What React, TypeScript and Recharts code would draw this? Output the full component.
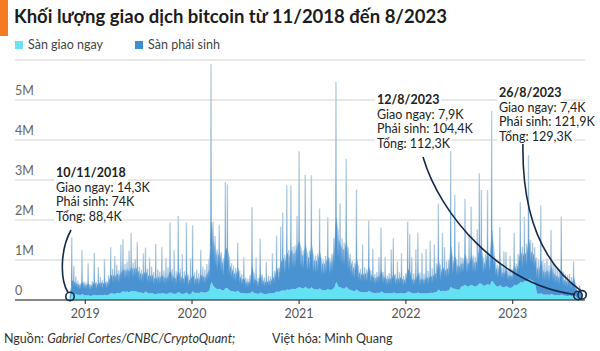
import React from 'react';
import {
  ComposedChart,
  Area,
  Bar,
  XAxis,
  YAxis,
  CartesianGrid,
  ReferenceDot,
} from 'recharts';

const DAY = 86400000;
const START = Date.UTC(2018, 10, 10);

// weekly samples from 10/11/2018, values in thousands
// spot = giao ngay, body = typical phai sinh level, peak = highest phai sinh day of the week
const spot2018 = [14.3, 160, 150, 140, 130, 120, 150, 120];
const body2018 = [74, 320, 300, 280, 260, 240, 300, 260];
const peak2018 = [74, 1400, 700, 450, 350, 300, 1100, 350];

const spot2019 = [
  110, 120, 100, 115, 130, 110, 120, 125, 115, 130,
  120, 140, 170, 160, 150, 180, 165, 190, 220, 200,
  210, 190, 230, 210, 220, 200, 190, 180, 170, 210,
  170, 160, 175, 150, 150, 160, 155, 170, 160, 150,
  165, 190, 170, 150, 160, 200, 165, 150, 160, 190,
  140, 150,
];
const body2019 = [
  260, 280, 240, 270, 320, 260, 290, 320, 290, 310,
  280, 340, 440, 460, 420, 480, 440, 490, 540, 520,
  560, 510, 580, 540, 600, 540, 500, 460, 480, 510,
  440, 420, 460, 400, 380, 420, 400, 440, 410, 380,
  440, 540, 440, 380, 400, 510, 420, 360, 390, 480,
  350, 370,
];
const peak2019 = [
  330, 800, 300, 360, 1050, 340, 700, 450, 380, 900,
  360, 480, 1150, 620, 950, 700, 580, 1200, 1300, 700,
  750, 1050, 1450, 720, 800, 1250, 640, 580, 1000, 1100,
  620, 900, 660, 550, 1250, 600, 560, 1150, 580, 900,
  650, 1750, 600, 1100, 560, 1900, 620, 1000, 560, 1750,
  480, 900,
];

const spot2020 = [
  220, 170, 180, 170, 200, 190, 180, 200, 230, 450,
  350, 300, 260, 280, 250, 240, 300, 290, 240, 220,
  210, 200, 230, 180, 170, 170, 160, 160, 170, 220,
  170, 160, 150, 190, 160, 150, 150, 160, 160, 170,
  180, 210, 200, 230, 240, 230, 260, 250, 270, 280,
  260, 300,
];
const body2020 = [
  400, 340, 370, 320, 420, 400, 370, 450, 520, 1500,
  1150, 950, 800, 900, 750, 620, 1000, 950, 620, 540,
  470, 430, 560, 400, 340, 360, 290, 270, 310, 600,
  370, 320, 290, 450, 340, 300, 290, 320, 310, 370,
  400, 580, 480, 700, 800, 720, 920, 800, 980, 860,
  920, 1050,
];
const peak2020 = [
  1650, 520, 580, 500, 1050, 650, 580, 700, 800, 5450,
  1600, 1300, 1000, 1600, 950, 800, 2650, 2600, 850, 700,
  650, 600, 1200, 550, 480, 900, 400, 380, 450, 2100,
  520, 900, 400, 1350, 480, 420, 800, 450, 430, 1000,
  550, 1400, 600, 1600, 1950, 900, 2600, 1000, 2600, 1050,
  1100, 1800,
];

const spot2021 = [
  320, 300, 290, 330, 280, 280, 320, 270, 260, 260,
  290, 250, 240, 250, 270, 250, 260, 300, 450, 330,
  320, 290, 280, 330, 270, 250, 230, 220, 260, 210,
  200, 190, 200, 190, 230, 190, 180, 170, 180, 175,
  210, 180, 170, 165, 175, 160, 190, 170, 165, 175,
  170, 160,
];
const body2021 = [
  1150, 850, 800, 1050, 760, 800, 1050, 720, 700, 740,
  900, 660, 640, 700, 800, 660, 740, 950, 1600, 1200,
  1050, 1000, 950, 1100, 820, 700, 600, 540, 760, 480,
  450, 430, 470, 450, 580, 430, 400, 370, 400, 390,
  520, 400, 370, 340, 380, 330, 470, 360, 340, 390,
  360, 330,
];
const peak2021 = [
  3400, 1000, 950, 2800, 900, 950, 2800, 850, 850, 900,
  2000, 800, 750, 850, 1800, 800, 900, 1250, 5000, 1450,
  2100, 1250, 1150, 3200, 1050, 900, 750, 700, 2500, 650,
  580, 1200, 620, 580, 1750, 550, 1100, 480, 520, 900,
  1600, 520, 900, 450, 500, 1100, 1350, 480, 800, 520,
  1000, 440,
];

const spot2022 = [
  170, 210, 200, 170, 165, 170, 190, 165, 170, 165,
  175, 170, 180, 175, 190, 200, 260, 210, 230, 220,
  230, 240, 330, 280, 280, 260, 250, 330, 350, 380,
  330, 350, 380, 350, 340, 360, 420, 400, 350, 370,
  400, 370, 480, 420, 350, 330, 370, 320, 320, 350,
  310, 300, 320,
];
const body2022 = [
  360, 560, 500, 340, 330, 370, 470, 340, 350, 330,
  390, 370, 420, 400, 450, 490, 720, 470, 580, 510,
  540, 560, 1000, 620, 800, 600, 560, 580, 550, 760,
  560, 580, 720, 600, 580, 620, 920, 820, 550, 600,
  800, 580, 1250, 700, 450, 380, 580, 360, 330, 420,
  300, 290, 300,
];
const peak2022 = [
  500, 1750, 1450, 900, 500, 1100, 1500, 520, 1000, 500,
  1100, 560, 1300, 620, 1200, 720, 2150, 680, 1450, 1100,
  740, 760, 3400, 800, 2350, 760, 1200, 740, 700, 2150,
  720, 1300, 1950, 760, 740, 1400, 2750, 2350, 720, 780,
  2350, 720, 4250, 900, 640, 550, 1450, 520, 900, 850,
  450, 800, 450,
];

const spot2023 = [
  380, 360, 400, 450, 430, 480, 460, 520, 500, 480,
  420, 160, 150, 170, 140, 130, 140, 125, 150, 130,
  120, 125, 115, 140, 110, 105, 100, 110, 95, 120,
  90, 7.9, 85, 7.4,
];
const body2023 = [
  480, 380, 520, 760, 650, 700, 660, 1000, 700, 680,
  640, 640, 580, 800, 580, 560, 600, 530, 680, 540,
  490, 460, 430, 620, 400, 370, 350, 370, 300, 430,
  230, 104.4, 190, 121.9,
];
const peak2023 = [
  1300, 550, 750, 2000, 900, 1600, 950, 3100, 1000, 950,
  900, 900, 850, 2200, 850, 800, 900, 750, 1600, 800,
  750, 700, 650, 1950, 600, 550, 520, 550, 480, 850,
  330, 104.4, 280, 121.9,
];

const spot = [...spot2018, ...spot2019, ...spot2020, ...spot2021, ...spot2022, ...spot2023];
const body = [...body2018, ...body2019, ...body2020, ...body2021, ...body2022, ...body2023];
const peak = [...peak2018, ...peak2019, ...peak2020, ...peak2021, ...peak2022, ...peak2023];

const data = body.map((v, i) => ({
  t: START + i * 7 * DAY,
  spot: spot[i],
  deriv: v,
  // the spike above the weekly level
  spike: [spot[i] + v * 0.6, spot[i] + Math.max(v, peak[i])],
}));
const END = data[data.length - 1].t;

const yearTicks = [2019, 2020, 2021, 2022, 2023];
const yTicks = [0, 1000, 2000, 3000, 4000, 5000];

const legendItems = [
  { name: 'Sàn giao ngay', color: '#6de3f1' },
  { name: 'Sàn phái sinh', color: '#3d8fd2' },
];

const notes = [
  { label: '10/11/2018', week: 0, spot: 14.3, deriv: 74, total: 88.4 },
  { label: '12/8/2023', week: 248, spot: 7.9, deriv: 104.4, total: 112.3 },
  { label: '26/8/2023', week: 250, spot: 7.4, deriv: 121.9, total: 129.3 },
];

// where each note's text sits and how its leader line bends
const noteLayout = [
  { left: 54, top: 166, path: (x: number, y: number) => `M71,230 C60,250 60,280 ${x - 2},${y - 4}` },
  { left: 375, top: 93, path: (x: number, y: number) => `M423,157 C440,215 500,285 ${x - 3},${y - 1}` },
  { left: 497, top: 86, path: (x: number, y: number) => `M523,140 C521,220 545,265 ${x - 1},${y - 4}` },
];

const navy = '#15294a';
const fmt = (v: number) => String(v).replace('.', ',') + 'K';

const YTick = (props: any) => {
  const { y, payload } = props;
  const v = payload.value;
  return (
    <text x={15} y={y - 5} fill="#666" fontSize={12.5} textAnchor="start">
      {v === 0 ? '0' : `${v / 1000}M`}
    </text>
  );
};

export default function App() {
  return (
    <div
      style={{
        position: 'absolute',
        left: 0,
        top: 0,
        width: 600,
        height: 351,
        background: '#fff',
        fontFamily: 'Lato, sans-serif',
        color: '#222',
        overflow: 'hidden',
      }}
    >
      <div style={{ position: 'absolute', left: 0, top: 0, width: 8, height: 36, background: '#f37b20' }} />
      <div style={{ position: 'absolute', left: 14, top: 5, fontSize: 18.5, fontWeight: 700, color: '#1c1c1c' }}>
        Khối lượng giao dịch bitcoin từ 11/2018 đến 8/2023
      </div>
      <div style={{ position: 'absolute', left: 15, top: 37, display: 'flex', fontSize: 12.5, color: '#444' }}>
        {legendItems.map((it) => (
          <div key={it.name} style={{ display: 'flex', alignItems: 'center', marginRight: 32 }}>
            <span style={{ width: 8, height: 8, background: it.color, marginRight: 5 }} />
            {it.name}
          </div>
        ))}
      </div>

      <ComposedChart
        width={600}
        height={351}
        data={data}
        margin={{ top: 60, right: 15, bottom: 31, left: 14 }}
      >
        <defs>
          <linearGradient id="spikeFill" x1="0" y1="0" x2="0" y2="1">
            <stop offset="0%" stopColor="#b9cfdf" />
            <stop offset="55%" stopColor="#8db6da" />
            <stop offset="100%" stopColor="#4a93d2" />
          </linearGradient>
        </defs>
        <CartesianGrid vertical={false} stroke="#d2d2d2" />
        <XAxis
          dataKey="t"
          type="number"
          domain={[START - 188 * DAY, END + 10 * DAY]}
          ticks={yearTicks.map((y) => Date.UTC(y, 0, 1))}
          tickFormatter={(t) => String(new Date(t).getUTCFullYear())}
          height={20}
          tickSize={4}
          tickMargin={5}
          stroke="#222"
          tick={{ fill: '#555', fontSize: 12.5 }}
          allowDataOverflow
        />
        <YAxis
          width={1}
          domain={[0, 6000]}
          ticks={yTicks}
          axisLine={false}
          tickLine={false}
          tick={(p: any) => <YTick {...p} />}
          allowDataOverflow
        />
        <Area
          type="linear"
          dataKey="spot"
          stackId="v"
          fill="#62e2f2"
          fillOpacity={1}
          stroke="none"
          isAnimationActive={false}
        />
        <Area
          type="linear"
          dataKey="deriv"
          stackId="v"
          fill="#4a93d2"
          fillOpacity={1}
          stroke="#6aa6d9"
          strokeWidth={0.6}
          isAnimationActive={false}
        />
        <Bar dataKey="spike" barSize={1.4} fill="url(#spikeFill)" isAnimationActive={false} />
        {notes.map((n, k) => (
          <ReferenceDot
            key={n.label}
            x={data[n.week].t}
            y={n.total}
            ifOverflow="visible"
            shape={(p: any) => (
              <g>
                <path d={noteLayout[k].path(p.cx, p.cy)} fill="none" stroke={navy} strokeWidth={1.6} />
                <circle cx={p.cx} cy={p.cy} r={4.2} fill="none" stroke={navy} strokeWidth={1.6} />
              </g>
            )}
          />
        ))}
      </ComposedChart>

      {notes.map((n, k) => (
        <div
          key={n.label}
          style={{
            position: 'absolute',
            left: noteLayout[k].left,
            top: noteLayout[k].top,
            fontSize: 12.5,
            lineHeight: '14.5px',
            color: '#222',
          }}
        >
          <div style={{ fontWeight: 700, background: '#fff', padding: '0 2px', width: 'fit-content' }}>{n.label}</div>
          <div style={{ background: '#fff', padding: '0 2px', width: 'fit-content' }}>Giao ngay: {fmt(n.spot)}</div>
          <div style={{ background: '#fff', padding: '0 2px', width: 'fit-content' }}>Phái sinh: {fmt(n.deriv)}</div>
          <div style={{ background: '#fff', padding: '0 2px', width: 'fit-content' }}>Tổng: {fmt(n.total)}</div>
        </div>
      ))}

      <div style={{ position: 'absolute', left: 4, top: 331, fontSize: 12.5, color: '#333' }}>
        Nguồn: <i>Gabriel Cortes/CNBC/CryptoQuant;</i>
      </div>
      <div style={{ position: 'absolute', left: 272, top: 331, fontSize: 12.5, color: '#333' }}>
        Việt hóa: Minh Quang
      </div>
    </div>
  );
}
